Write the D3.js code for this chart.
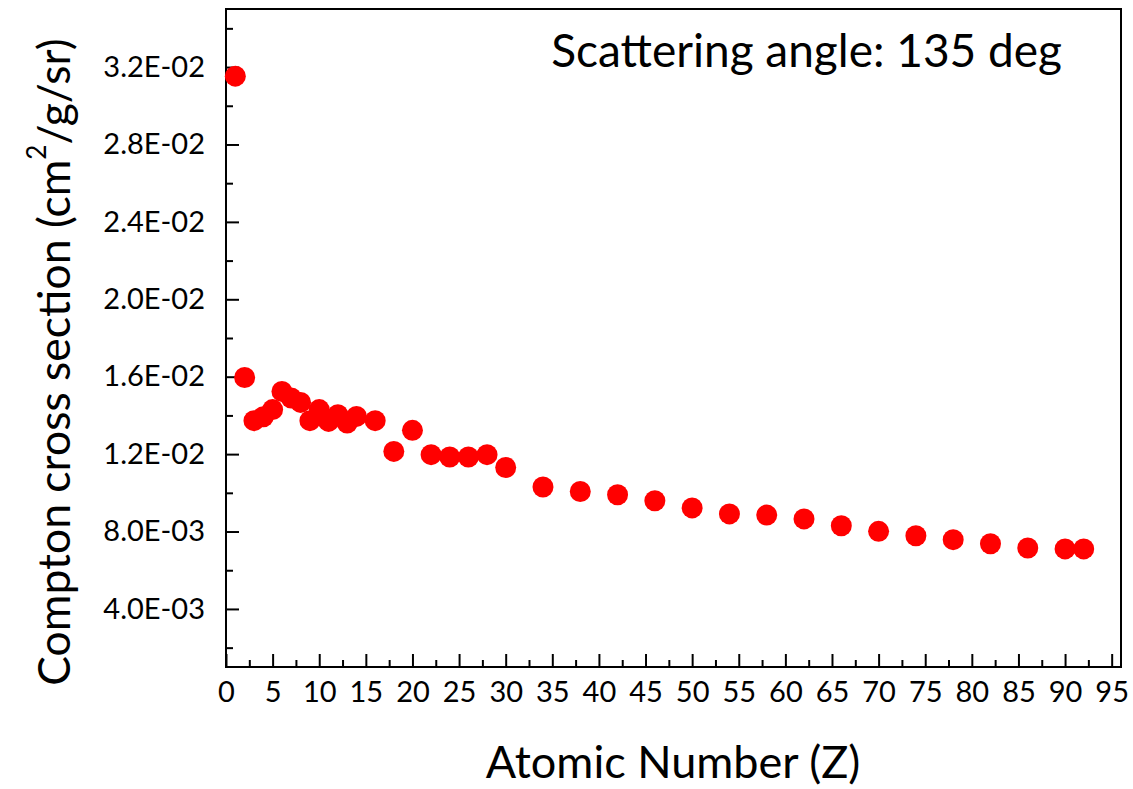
<!DOCTYPE html>
<html>
<head>
<meta charset="utf-8">
<script src="https://cdn.jsdelivr.net/npm/d3@7"></script>
<style>
  body { margin: 0; background: #fff; }
  svg { display: block; }
  text { font-family: Lato, "Open Sans", sans-serif; fill: #000; }
</style>
</head>
<body>
<svg id="chart"></svg>
<script>
// Atomic number (Z) of each measured element
const atomicNumber = [1, 2, 3, 4, 5, 6, 7, 8, 9, 10, 11, 12, 13, 14, 16, 18, 20, 22, 24, 26, 28, 30,
  34, 38, 42, 46, 50, 54, 58, 62, 66, 70, 74, 78, 82, 86, 90, 92];

// Compton cross section (cm2/g/sr) at 135 deg
const crossSection = [0.03153, 0.01596, 0.01373, 0.01393, 0.01430, 0.01524, 0.01490, 0.01467,
  0.01373, 0.01430, 0.01369, 0.01404, 0.01361, 0.01395, 0.01373, 0.01214, 0.01323, 0.01197,
  0.01185, 0.01185, 0.01197, 0.01131, 0.01030, 0.01007, 0.00990, 0.00959, 0.00922, 0.00891,
  0.00885, 0.00865, 0.00830, 0.00801, 0.00778, 0.00758, 0.00737, 0.00715, 0.00710, 0.00710];

// Axis ticks
const xMajorTicks = d3.range(0, 96, 5);
const xMinorTicks = d3.range(2.5, 95, 5);
const yMajorTicks = [0.004, 0.008, 0.012, 0.016, 0.020, 0.024, 0.028, 0.032];
const yMinorTicks = [0.002, 0.006, 0.010, 0.014, 0.018, 0.022, 0.026, 0.030, 0.034];

const annotation = "Scattering angle: 135 deg";
const xTitle = "Atomic Number (Z)";

/* CONSTANTS */
let width = 1133
let height = 789
let plot = { left: 226, right: 1121, top: 9, bottom: 667 }

let svg = d3.select("#chart")
    .attr("width", width)
    .attr("height", height);

let x = d3.scaleLinear().domain([0, 96]).range([plot.left, plot.right]);
let y = d3.scaleLinear().domain([0.001, 0.035]).range([plot.bottom, plot.top]);

// "3.2E-02" style labels
function sciLabel(v) {
    let e = Math.floor(Math.log10(v) + 1e-9);
    let m = v / Math.pow(10, e);
    let sign = e < 0 ? "-" : "+";
    return m.toFixed(1) + "E" + sign + String(Math.abs(e)).padStart(2, "0");
}

/* AXES */
// minor ticks, pointing inward
svg.append("g")
    .attr("transform", `translate(0,${plot.bottom})`)
    .call(d3.axisBottom(x).tickValues(xMinorTicks).tickSize(-7).tickFormat(""));
svg.append("g")
    .attr("transform", `translate(${plot.left},0)`)
    .call(d3.axisLeft(y).tickValues(yMinorTicks).tickSize(-7).tickFormat(""));

// major ticks with labels
svg.append("g")
    .attr("class", "x-axis")
    .attr("transform", `translate(0,${plot.bottom})`)
    .call(d3.axisBottom(x).tickValues(xMajorTicks).tickSize(-13).tickPadding(14));
svg.append("g")
    .attr("class", "y-axis")
    .attr("transform", `translate(${plot.left},0)`)
    .call(d3.axisLeft(y).tickValues(yMajorTicks).tickSize(-13).tickPadding(21).tickFormat(sciLabel));

svg.selectAll(".domain").remove();
svg.selectAll(".tick line").attr("stroke", "#000").attr("stroke-width", 2);
svg.selectAll(".tick text")
    .style("font-size", "29px")
    .attr("fill", "#000");

// frame
svg.append("rect")
    .attr("x", plot.left)
    .attr("y", plot.top)
    .attr("width", plot.right - plot.left)
    .attr("height", plot.bottom - plot.top)
    .attr("fill", "none")
    .attr("stroke", "#000")
    .attr("stroke-width", 2);

/* POINTS */
let points = atomicNumber.map((z, i) => ({ z: z, v: crossSection[i] }));

svg.append("g")
    .selectAll("circle")
    .data(points)
    .join("circle")
    .attr("cx", d => x(d.z))
    .attr("cy", d => y(d.v))
    .attr("r", 10.5)
    .attr("fill", "#ff0000");

/* TEXTS */
svg.append("text")
    .attr("x", 1062)
    .attr("y", 67)
    .attr("text-anchor", "end")
    .style("font-size", "46px")
    .text(annotation);

svg.append("text")
    .attr("x", 673)
    .attr("y", 778)
    .attr("text-anchor", "middle")
    .style("font-size", "45px")
    .text(xTitle);

let yTitle = svg.append("text")
    .attr("transform", `translate(70,362) rotate(-90)`)
    .attr("text-anchor", "middle")
    .style("font-size", "44.5px");
yTitle.append("tspan").text("Compton cross section (cm");
yTitle.append("tspan").attr("dy", -24).style("font-size", "26px").text("2");
yTitle.append("tspan").attr("dy", 24).text("/g/sr)");
</script>
</body>
</html>
